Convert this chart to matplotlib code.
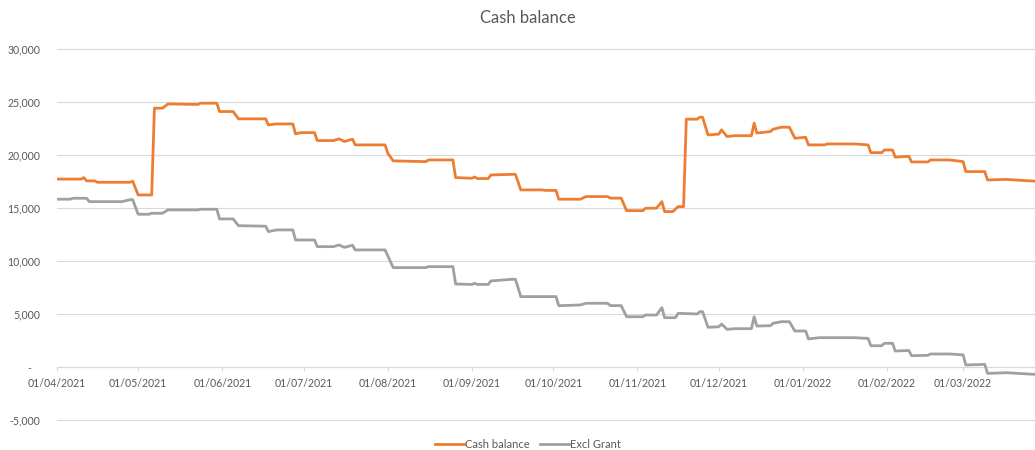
import matplotlib
matplotlib.use("Agg")
import matplotlib.pyplot as plt
import matplotlib.dates as mdates
import matplotlib.ticker as mticker
import pandas as pd

plt.rcParams['font.family'] = ['Lato', 'DejaVu Sans']

# ---- data ----
cash_dates = ["2021-04-01", "2021-04-10", "2021-04-11", "2021-04-12", "2021-04-15", "2021-04-16",
              "2021-04-28", "2021-04-29", "2021-04-30", "2021-05-01", "2021-05-06", "2021-05-07",
              "2021-05-10", "2021-05-12", "2021-05-23", "2021-05-24", "2021-05-30", "2021-05-31",
              "2021-06-05", "2021-06-07", "2021-06-17", "2021-06-18", "2021-06-21", "2021-06-27",
              "2021-06-28", "2021-06-30", "2021-07-05", "2021-07-06", "2021-07-12", "2021-07-14",
              "2021-07-16", "2021-07-19", "2021-07-20", "2021-07-31", "2021-08-01", "2021-08-03",
              "2021-08-15", "2021-08-16", "2021-08-25", "2021-08-26", "2021-09-01", "2021-09-02",
              "2021-09-03", "2021-09-07", "2021-09-08", "2021-09-16", "2021-09-17", "2021-09-18",
              "2021-09-19", "2021-09-27", "2021-09-28", "2021-10-02", "2021-10-03", "2021-10-11",
              "2021-10-13", "2021-10-21", "2021-10-22", "2021-10-26", "2021-10-28", "2021-11-03",
              "2021-11-04", "2021-11-08", "2021-11-10", "2021-11-11", "2021-11-14", "2021-11-16",
              "2021-11-18", "2021-11-19", "2021-11-23", "2021-11-24", "2021-11-25", "2021-11-27",
              "2021-12-01", "2021-12-02", "2021-12-04", "2021-12-07", "2021-12-13", "2021-12-14",
              "2021-12-15", "2021-12-20", "2021-12-21", "2021-12-24", "2021-12-27", "2021-12-29",
              "2022-01-02", "2022-01-03", "2022-01-09", "2022-01-10", "2022-01-20", "2022-01-25",
              "2022-01-26", "2022-01-30", "2022-01-31", "2022-02-03", "2022-02-04", "2022-02-09",
              "2022-02-10", "2022-02-16", "2022-02-17", "2022-02-24", "2022-03-01", "2022-03-02",
              "2022-03-09", "2022-03-10", "2022-03-17", "2022-03-27"]
cash_values = [17750, 17750, 17890, 17580, 17580, 17450,
               17450, 17550, 16900, 16250, 16250, 24450,
               24450, 24850, 24800, 24920, 24920, 24130,
               24130, 23440, 23440, 22870, 22960, 22960,
               22020, 22140, 22140, 21390, 21390, 21550,
               21300, 21520, 20980, 20980, 20200, 19470,
               19400, 19560, 19560, 17890, 17830, 17950,
               17800, 17800, 18140, 18200, 18200, 17500,
               16730, 16730, 16680, 16680, 15850, 15850,
               16100, 16100, 15950, 15950, 14770, 14770,
               15000, 15000, 15620, 14680, 14680, 15150,
               15150, 23410, 23410, 23600, 23600, 21920,
               22000, 22400, 21770, 21850, 21850, 23030,
               22100, 22240, 22460, 22650, 22650, 21610,
               21700, 20980, 20980, 21070, 21070, 20980,
               20250, 20250, 20500, 20500, 19820, 19900,
               19370, 19370, 19560, 19560, 19400, 18460,
               18460, 17670, 17720, 17560]

excl_dates = ["2021-04-01", "2021-04-06", "2021-04-07", "2021-04-12", "2021-04-13", "2021-04-25",
              "2021-04-28", "2021-04-29", "2021-05-01", "2021-05-05", "2021-05-06", "2021-05-10",
              "2021-05-12", "2021-05-23", "2021-05-24", "2021-05-30", "2021-05-31", "2021-06-05",
              "2021-06-07", "2021-06-17", "2021-06-18", "2021-06-21", "2021-06-27", "2021-06-28",
              "2021-07-05", "2021-07-06", "2021-07-12", "2021-07-14", "2021-07-16", "2021-07-19",
              "2021-07-20", "2021-07-31", "2021-08-01", "2021-08-03", "2021-08-15", "2021-08-16",
              "2021-08-25", "2021-08-26", "2021-09-01", "2021-09-02", "2021-09-03", "2021-09-07",
              "2021-09-08", "2021-09-16", "2021-09-17", "2021-09-18", "2021-09-19", "2021-10-02",
              "2021-10-03", "2021-10-11", "2021-10-13", "2021-10-21", "2021-10-22", "2021-10-26",
              "2021-10-28", "2021-11-03", "2021-11-04", "2021-11-08", "2021-11-10", "2021-11-11",
              "2021-11-15", "2021-11-16", "2021-11-23", "2021-11-24", "2021-11-25", "2021-11-27",
              "2021-12-01", "2021-12-02", "2021-12-04", "2021-12-07", "2021-12-13", "2021-12-14",
              "2021-12-15", "2021-12-20", "2021-12-21", "2021-12-24", "2021-12-27", "2021-12-29",
              "2022-01-02", "2022-01-03", "2022-01-07", "2022-01-20", "2022-01-25", "2022-01-26",
              "2022-01-30", "2022-01-31", "2022-02-03", "2022-02-04", "2022-02-09", "2022-02-10",
              "2022-02-16", "2022-02-17", "2022-02-24", "2022-03-01", "2022-03-02", "2022-03-09",
              "2022-03-10", "2022-03-17", "2022-03-27"]
excl_values = [15850, 15850, 15940, 15940, 15620, 15620,
               15800, 15800, 14430, 14430, 14520, 14520,
               14840, 14840, 14900, 14900, 13990, 13990,
               13350, 13300, 12790, 12950, 12950, 12000,
               12000, 11370, 11370, 11530, 11300, 11500,
               11060, 11060, 10500, 9390, 9390, 9480,
               9480, 7840, 7800, 7900, 7800, 7800,
               8130, 8290, 8290, 7500, 6650, 6650,
               5790, 5860, 6020, 6020, 5800, 5800,
               4750, 4750, 4910, 4910, 5610, 4660,
               4660, 5070, 5010, 5230, 5230, 3750,
               3800, 4060, 3560, 3620, 3620, 4750,
               3870, 3900, 4130, 4280, 4280, 3400,
               3400, 2650, 2770, 2770, 2700, 2010,
               2010, 2240, 2240, 1510, 1560, 1070,
               1100, 1230, 1230, 1150, 190, 250,
               -600, -540, -690]

series_names = ["Cash balance", "Excl Grant"]
title_text = "Cash balance"
y_ticks = [-5000, 0, 5000, 10000, 15000, 20000, 25000, 30000]
x_start, x_end = "2021-04-01", "2022-03-27 12:00"

# ---- figure ----
fig = plt.figure(figsize=(10.35, 4.5), dpi=100)
ax = fig.add_axes([0.0548, 0.0668, 0.9452, 0.8234])

orange = "#ED7D31"
grey = "#A0A0A0"
ax.plot(pd.to_datetime(cash_dates), cash_values, color=orange, lw=2.0,
        label=series_names[0], solid_joinstyle='round', zorder=3)
ax.plot(pd.to_datetime(excl_dates), excl_values, color=grey, lw=2.0,
        label=series_names[1], solid_joinstyle='round', zorder=3)

ax.set_xlim(pd.Timestamp(x_start), pd.Timestamp(x_end))
ax.set_ylim(y_ticks[0], y_ticks[-1])
ax.set_yticks(y_ticks)

def yfmt(v, pos):
    if abs(v) < 1e-9:
        return "-   "
    return f"{v:,.0f}"
ax.yaxis.set_major_formatter(mticker.FuncFormatter(yfmt))

ax.xaxis.set_major_locator(mdates.MonthLocator(bymonthday=1))
ax.xaxis.set_major_formatter(mdates.DateFormatter("%d/%m/%Y"))

grid_c = "#D9D9D9"
for yv in y_ticks:
    ax.axhline(yv, color=grid_c, lw=0.8, zorder=0, clip_on=False)
for s in ['top', 'right', 'left']:
    ax.spines[s].set_visible(False)
ax.spines['bottom'].set_position(('data', 0))
ax.spines['bottom'].set_color(grid_c)
ax.spines['bottom'].set_linewidth(0.8)

label_c = "#595959"
ax.tick_params(axis='y', length=0, pad=12, labelsize=7.6, labelcolor=label_c)
ax.tick_params(axis='x', length=3, width=0.8, color=grid_c, pad=5,
               labelsize=7.6, labelcolor=label_c)

fig.text(0.51, 0.96, title_text, ha='center', va='center', fontsize=12, color=label_c)

leg = fig.legend(loc='center', bbox_to_anchor=(0.51, 0.013), ncol=2, frameon=False,
                 fontsize=8, handlelength=2.6, handletextpad=0.05, columnspacing=1.0)
for t in leg.get_texts():
    t.set_color(label_c)

fig.savefig("out.png", dpi=100, facecolor="white")
